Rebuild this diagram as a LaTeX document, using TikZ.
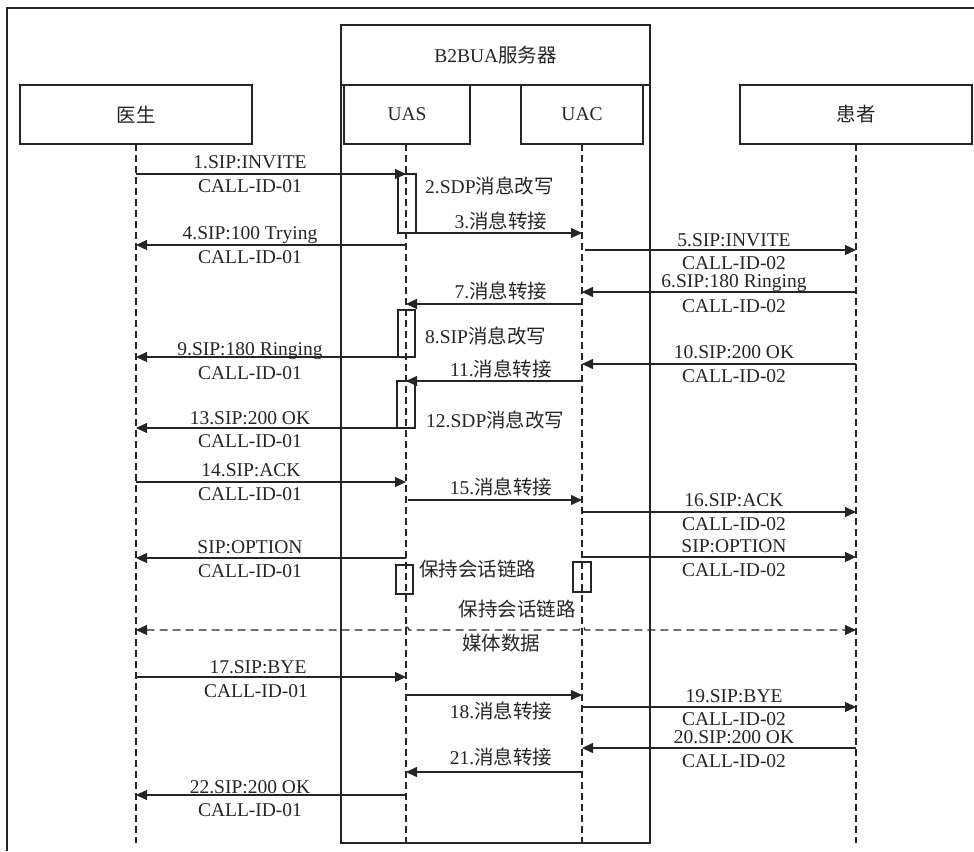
\documentclass[tikz,border=0pt]{standalone}
\usepackage{fontspec}
\setmainfont{Liberation Serif}
\newfontfamily\cjk{Noto Sans CJK SC}
\usetikzlibrary{arrows.meta}
\definecolor{ink}{RGB}{40,36,37}
\newcommand\zh[1]{{\cjk #1}}
\begin{document}
\begin{tikzpicture}[x=1pt,y=-1pt,
  font=\fontsize{19.5}{22}\selectfont,
  box/.style={draw=ink, line width=1.2pt, minimum height=59pt, inner sep=0pt, outer sep=0pt, text=ink},
  life/.style={draw=ink, line width=1.2pt, dash pattern=on 7pt off 4pt},
  msg/.style={draw=ink, line width=1.2pt, -{Triangle[length=11pt,width=10pt]}},
  act/.style={draw=ink, line width=1.2pt, inner sep=0pt, outer sep=0pt},
  lbl/.style={anchor=base, inner sep=0pt, text=ink},
  lbll/.style={anchor=base west, inner sep=0pt, text=ink}]
\useasboundingbox (0,0) rectangle (974,851);
% outer frame
\coordinate (f1) at (7,851);
\coordinate (f2) at (7,8);
\coordinate (f3) at (974,8);
\draw[ink, line width=1.2pt] (f1) -- (f2) -- (f3);
% B2BUA server
\node[box, minimum width=309pt, minimum height=60pt] (b2b) at (495.5,55) {B2BUA\zh{服务器}};
\coordinate (bl) at (341,843);
\coordinate (br) at (650,843);
\draw[ink, line width=1.2pt] (b2b.south west) -- (bl) -- (br) -- (b2b.south east);
% participants
\node[box, minimum width=232pt] (doc) at (136,114.5) {\zh{医生}};
\node[box, minimum width=126pt] (uas) at (407,114.5) {UAS};
\node[box, minimum width=122pt] (uac) at (582,114.5) {UAC};
\node[box, minimum width=232pt] (pat) at (856,114.5) {\zh{患者}};
% lifelines
\draw[life] (doc.south) -- (doc.south |- 0,843);
\draw[life] ([xshift=-1pt]uas.south) -- ([xshift=-1pt]uas.south |- 0,843);
\draw[life] (uac.south) -- (uac.south |- 0,843);
\draw[life] (pat.south) -- (pat.south |- 0,843);
% activation boxes
\node[act, minimum width=18pt, minimum height=59pt] (a1) at (407,203.5) {};
\node[act, minimum width=17pt, minimum height=47pt] (a8) at (406.5,333.5) {};
\node[act, minimum width=18pt, minimum height=47pt] (a12) at (406,404.5) {};
\node[act, minimum width=17pt, minimum height=29pt] (k1) at (404.5,579.5) {};
\node[act, minimum width=18pt, minimum height=30pt] (k2) at (582,577) {};
% messages
\draw[msg] (doc.south |- a1.north) -- ([xshift=-1pt]uas.south |- a1.north);
\node[lbl] (t1a) at (250,168) {1.SIP:INVITE};
\node[lbl] (t1b) at (250,192) {CALL-ID-01};
\node[lbll] (t2) at (425,193) {2.SDP\zh{消息改写}};
\draw[msg] (a1.south east) -- (uac.south |- a1.south east);
\node[lbl] (t3) at (501,228) {3.\zh{消息转接}};
\draw[msg] ([xshift=-1pt]uas.south |- 0,245) -- (doc.south |- 0,245);
\node[lbl] (t4a) at (250,239) {4.SIP:100 Trying};
\node[lbl] (t4b) at (250,263) {CALL-ID-01};
\draw[msg] ([xshift=3pt]uac.south |- 0,250) -- (pat.south |- 0,250);
\node[lbl] (t5a) at (734,246) {5.SIP:INVITE};
\node[lbl] (t5b) at (734,269) {CALL-ID-02};
\draw[msg] (pat.south |- 0,292) -- (uac.south |- 0,292);
\node[lbl] (t6a) at (734,287) {6.SIP:180 Ringing};
\node[lbl] (t6b) at (734,312) {CALL-ID-02};
\draw[msg] (uac.south |- 0,304) -- ([xshift=-1pt]uas.south |- 0,304);
\node[lbl] (t7) at (501,298) {7.\zh{消息转接}};
\node[lbll] (t8) at (425,343) {8.SIP\zh{消息改写}};
\draw[msg] (a8.south west) -- (doc.south |- a8.south west);
\node[lbl] (t9a) at (250,355) {9.SIP:180 Ringing};
\node[lbl] (t9b) at (250,379) {CALL-ID-01};
\draw[msg] (pat.south |- 0,364) -- (uac.south |- 0,364);
\node[lbl] (t10a) at (734,358) {10.SIP:200 OK};
\node[lbl] (t10b) at (734,382) {CALL-ID-02};
\draw[msg] (uac.south |- a12.north) -- ([xshift=-1pt]uas.south |- a12.north);
\node[lbl] (t11) at (501,376) {11.\zh{消息转接}};
\node[lbll] (t12) at (426,427) {12.SDP\zh{消息改写}};
\draw[msg] (a12.south west) -- (doc.south |- a12.south west);
\node[lbl] (t13a) at (250,424) {13.SIP:200 OK};
\node[lbl] (t13b) at (250,447) {CALL-ID-01};
\draw[msg] (doc.south |- 0,482) -- ([xshift=-1pt]uas.south |- 0,482);
\node[lbl] (t14a) at (251,476) {14.SIP:ACK};
\node[lbl] (t14b) at (250,500) {CALL-ID-01};
\draw[msg] ([xshift=1pt]uas.south |- 0,500) -- (uac.south |- 0,500);
\node[lbl] (t15) at (501,494) {15.\zh{消息转接}};
\draw[msg] (uac.south |- 0,512) -- (pat.south |- 0,512);
\node[lbl] (t16a) at (734,506) {16.SIP:ACK};
\node[lbl] (t16b) at (734,530) {CALL-ID-02};
\draw[msg] ([xshift=-1pt]uas.south |- 0,558) -- (doc.south |- 0,558);
\node[lbl] (to1a) at (250,553) {SIP:OPTION};
\node[lbl] (to1b) at (250,577) {CALL-ID-01};
\draw[msg] (uac.south |- 0,557) -- (pat.south |- 0,557);
\node[lbl] (to2a) at (734,552) {SIP:OPTION};
\node[lbl] (to2b) at (734,576) {CALL-ID-02};
\node[lbll] (tk1) at (419,576) {\zh{保持会话链路}};
\node[lbl] (tk2) at (517,616) {\zh{保持会话链路}};
% media data
\coordinate (j1) at (403,630);
\coordinate (j2) at (579,630);
\draw[ink, line width=1.2pt, dash pattern=on 8pt off 5pt,
  {Triangle[length=11pt,width=10pt]}-{Triangle[length=11pt,width=10pt]}]
  (doc.south |- 0,630) -- (j1) arc[start angle=180, end angle=0, radius=3pt]
  -- (j2) arc[start angle=180, end angle=0, radius=3pt] -- (pat.south |- 0,630);
\node[lbl] (tm) at (501,650) {\zh{媒体数据}};
% teardown
\draw[msg] (doc.south |- 0,677) -- ([xshift=-1pt]uas.south |- 0,677);
\node[lbl] (t17a) at (258,673) {17.SIP:BYE};
\node[lbl] (t17b) at (256,697) {CALL-ID-01};
\draw[msg] ([xshift=-1pt]uas.south |- 0,695) -- (uac.south |- 0,695);
\node[lbl] (t18) at (501,718) {18.\zh{消息转接}};
\draw[msg] (uac.south |- 0,707) -- (pat.south |- 0,707);
\node[lbl] (t19a) at (734,702) {19.SIP:BYE};
\node[lbl] (t19b) at (734,725) {CALL-ID-02};
\draw[msg] (pat.south |- 0,748) -- (uac.south |- 0,748);
\node[lbl] (t20a) at (734,743) {20.SIP:200 OK};
\node[lbl] (t20b) at (734,767) {CALL-ID-02};
\draw[msg] (uac.south |- 0,772) -- ([xshift=-1pt]uas.south |- 0,772);
\node[lbl] (t21) at (501,764) {21.\zh{消息转接}};
\draw[msg] ([xshift=-1pt]uas.south |- 0,795) -- (doc.south |- 0,795);
\node[lbl] (t22a) at (250,793) {22.SIP:200 OK};
\node[lbl] (t22b) at (250,816) {CALL-ID-01};
\end{tikzpicture}
\end{document}
